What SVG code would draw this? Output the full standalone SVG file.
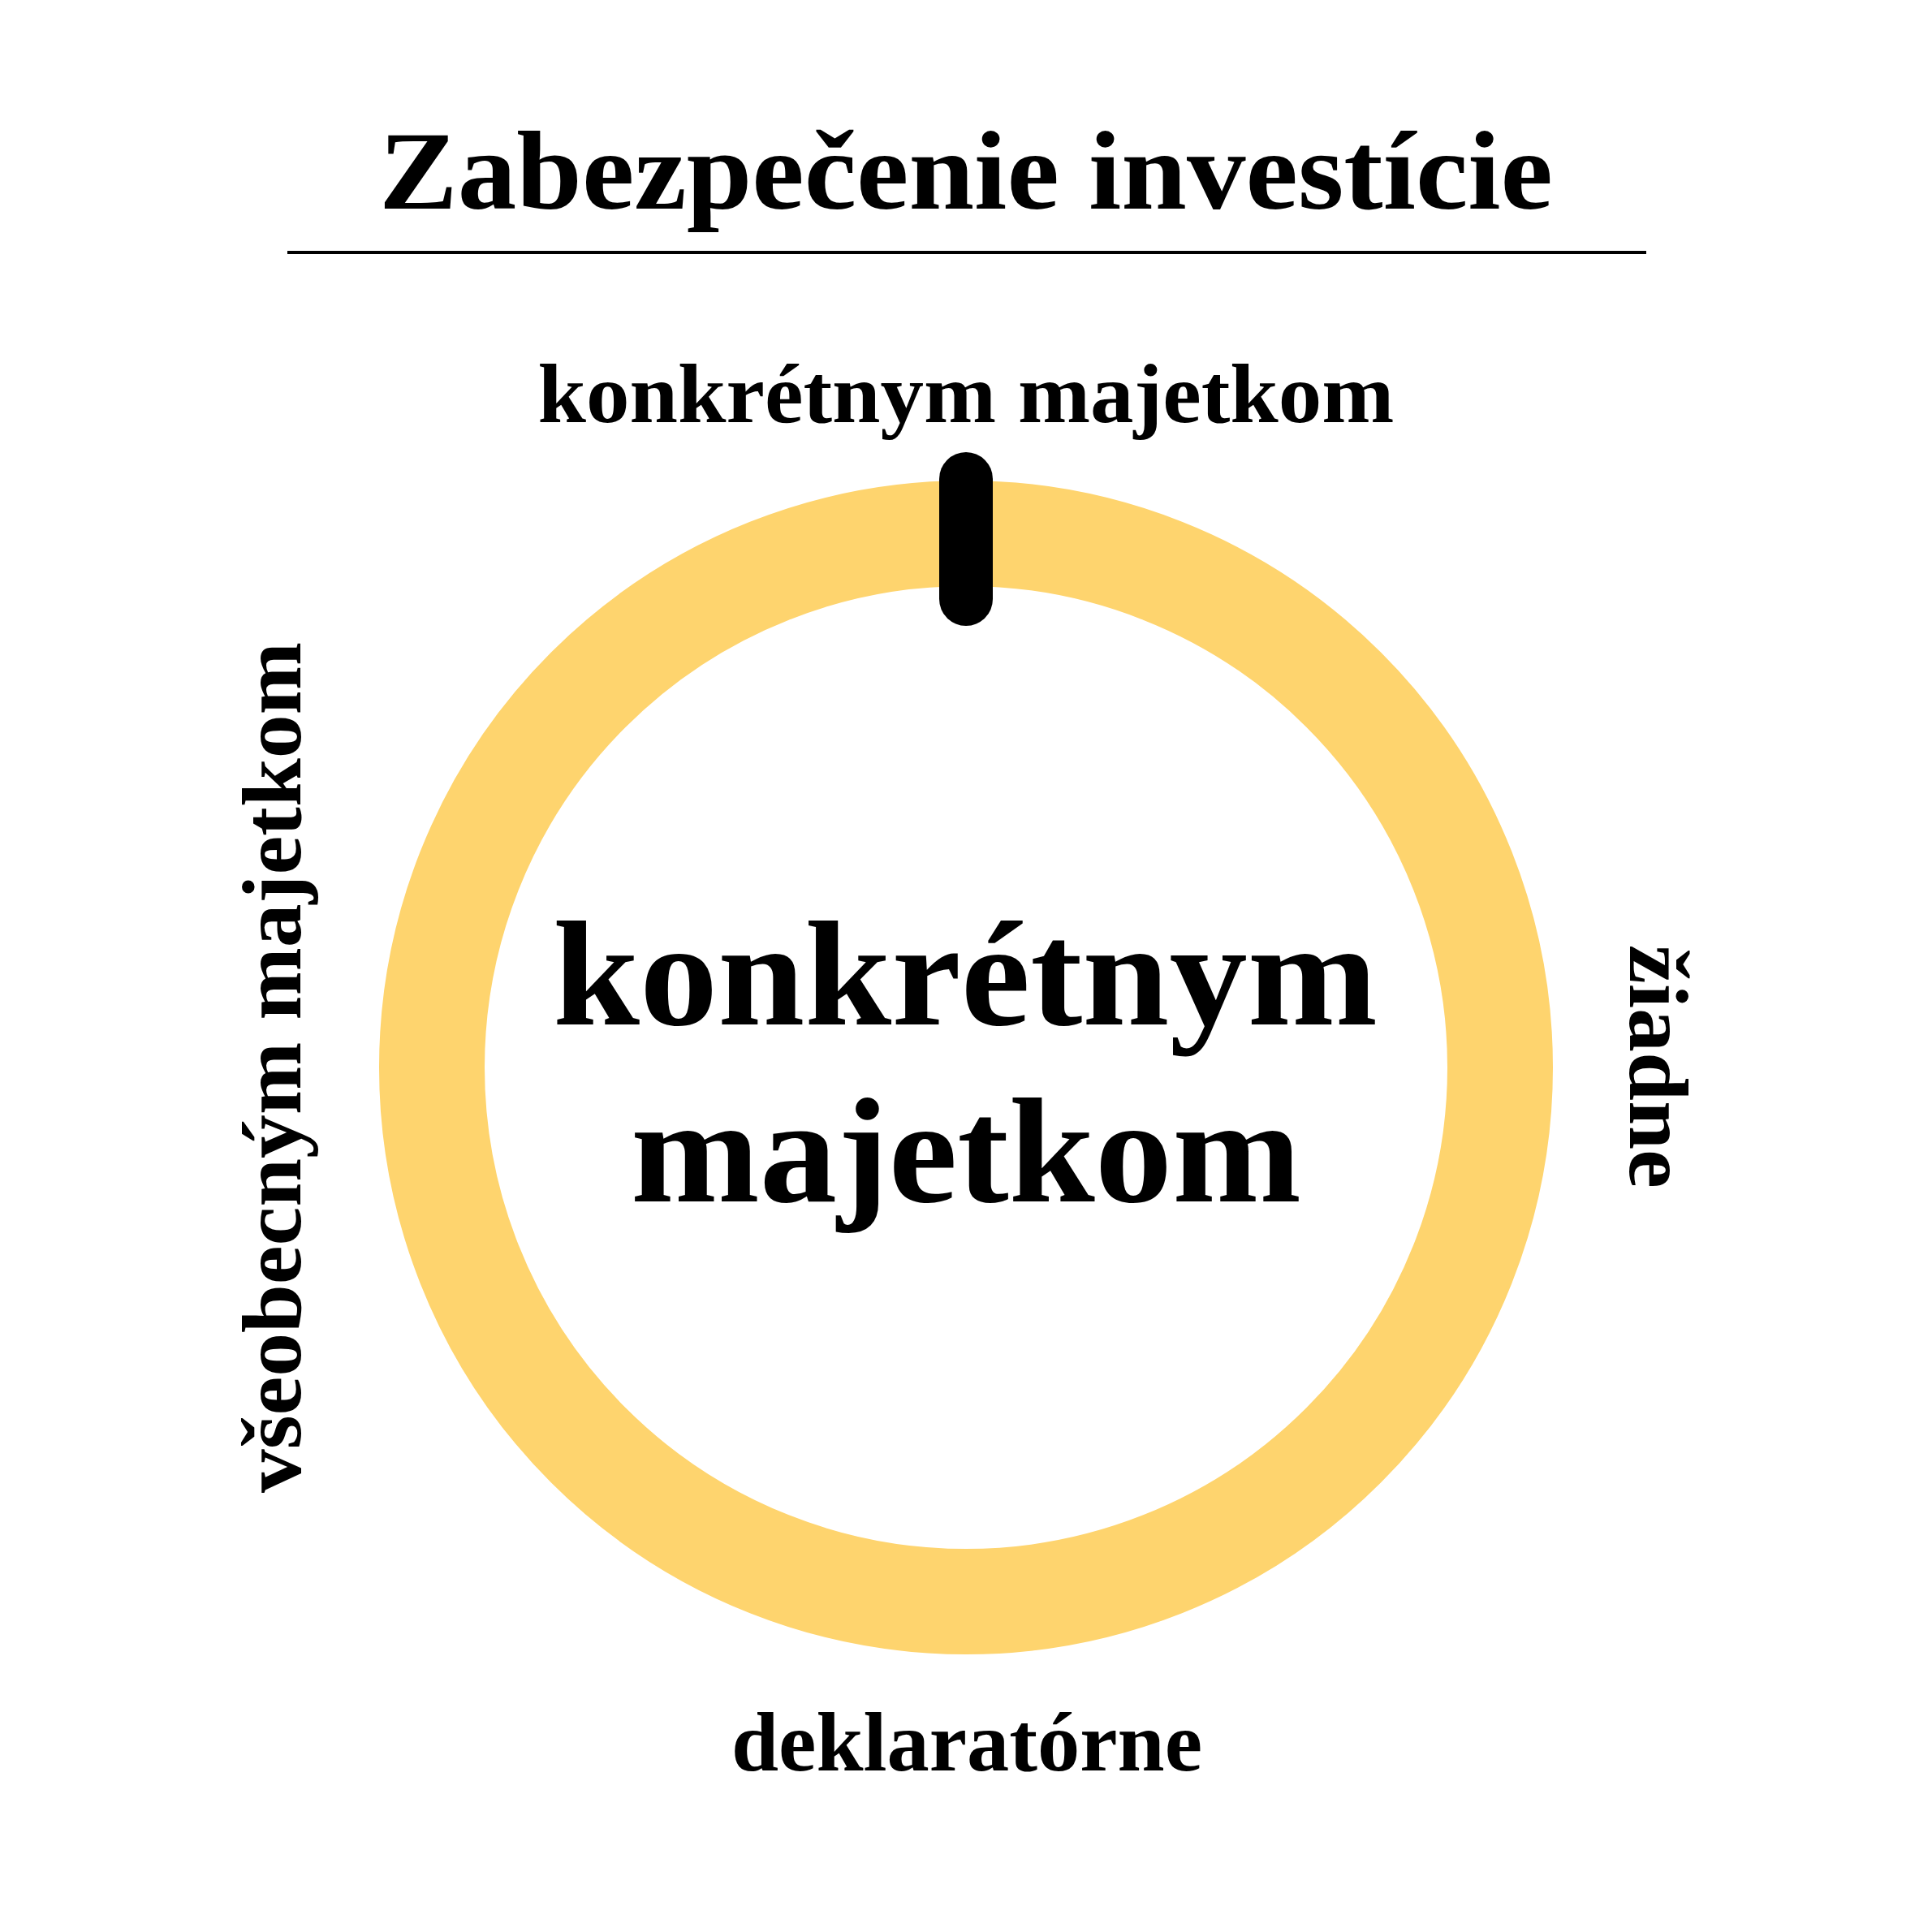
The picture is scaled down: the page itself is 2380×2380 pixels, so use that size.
<svg xmlns="http://www.w3.org/2000/svg" width="2380" height="2380" viewBox="0 0 2380 2380">
<style>
.t{font-family:"Liberation Serif","DejaVu Serif",serif;font-weight:bold;fill:#000;text-anchor:middle}
.lbl{font-size:104px}
</style>
<rect width="2380" height="2380" fill="#fff"/>
<g id="title">
<text class="t" x="1190" y="257" font-size="138" textLength="1446" lengthAdjust="spacingAndGlyphs">Zabezpečenie investície</text>
<line x1="354" y1="311" x2="2028" y2="311" stroke="#000" stroke-width="4"/>
</g>
<g id="gauge">
<circle cx="1190" cy="1315" r="658" fill="none" stroke="#FED46E" stroke-width="130"/>
<line x1="1190" y1="590" x2="1190" y2="738" stroke="#000" stroke-width="66" stroke-linecap="round"/>
</g>
<g id="center-label">
<text class="t" x="1189" y="1262" font-size="185" textLength="1016" lengthAdjust="spacingAndGlyphs">konkrétnym</text>
<text class="t" x="1190" y="1480" font-size="185" textLength="826" lengthAdjust="spacingAndGlyphs">majetkom</text>
</g>
<g id="label-top">
<text class="t lbl" x="1190" y="520" textLength="1055" lengthAdjust="spacingAndGlyphs">konkrétnym majetkom</text>
</g>
<g id="label-right">
<text class="t lbl" transform="translate(2008 1314) rotate(90)" x="0" y="0" textLength="300" lengthAdjust="spacingAndGlyphs">žiadne</text>
</g>
<g id="label-bottom">
<text class="t lbl" x="1191" y="2181" textLength="580" lengthAdjust="spacingAndGlyphs">deklaratórne</text>
</g>
<g id="label-left">
<text class="t lbl" transform="translate(370 1315) rotate(-90)" x="0" y="0" textLength="1048" lengthAdjust="spacingAndGlyphs">všeobecným majetkom</text>
</g>
</svg>
